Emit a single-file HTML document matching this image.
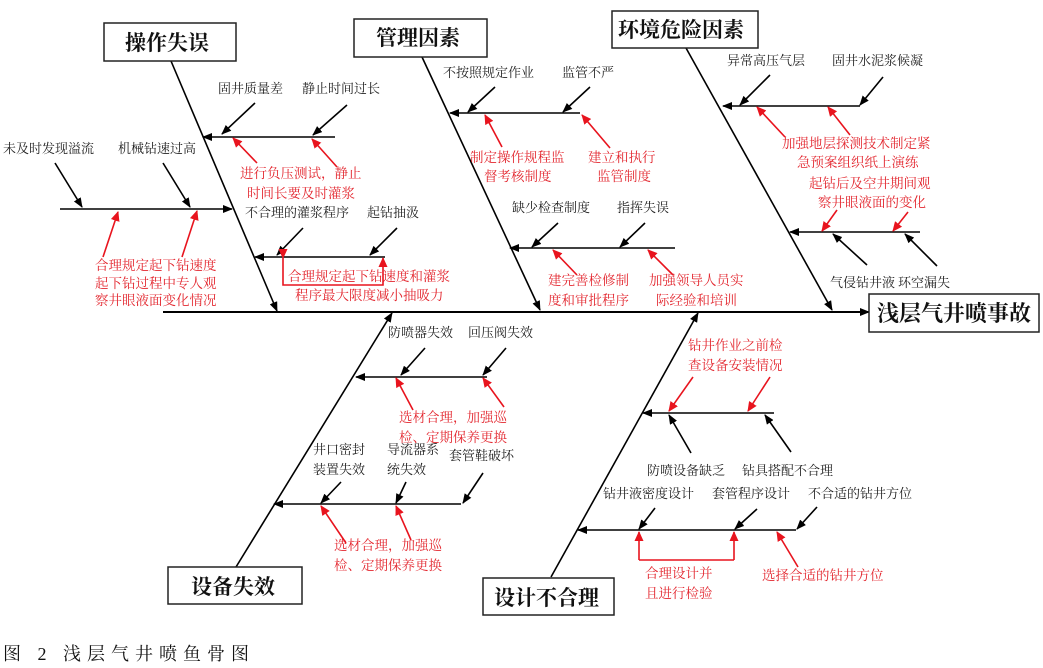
<!DOCTYPE html>
<html><head><meta charset="utf-8"><style>
html,body{margin:0;padding:0;background:#fff;}
svg{display:block;}
text{font-family:"Liberation Serif","Noto Serif CJK SC",serif;}
.k{font-size:13px;fill:#222;}
.r{font-size:13.5px;fill:#e3262e;}
.t{font-size:21px;fill:#111;}
</style></head><body>
<svg width="1043" height="668" viewBox="0 0 1043 668" xmlns="http://www.w3.org/2000/svg">
<defs>
<marker id="ak" markerWidth="10" markerHeight="8" refX="9" refY="4" orient="auto" markerUnits="userSpaceOnUse"><path d="M0,0 L10,4 L0,8 Z" fill="#000"/></marker>
<marker id="ar" markerWidth="10" markerHeight="9" refX="9" refY="4.5" orient="auto" markerUnits="userSpaceOnUse"><path d="M0,0 L10,4.5 L0,9 Z" fill="#e8141e"/></marker>
</defs>
<g stroke="#000" stroke-width="1.6" fill="none">
<line x1="163" y1="312" x2="869" y2="312" stroke-width="2" marker-end="url(#ak)"/>
<line x1="171" y1="61" x2="277" y2="311" marker-end="url(#ak)"/>
<line x1="422" y1="57" x2="540" y2="310" marker-end="url(#ak)"/>
<line x1="686" y1="48" x2="832" y2="310" marker-end="url(#ak)"/>
<line x1="236" y1="567" x2="392" y2="313" marker-end="url(#ak)"/>
<line x1="551" y1="577" x2="698" y2="313" marker-end="url(#ak)"/>
<line x1="335" y1="137" x2="203" y2="137" marker-end="url(#ak)"/>
<line x1="255" y1="103" x2="222" y2="134" marker-end="url(#ak)"/>
<line x1="347" y1="105" x2="313" y2="135" marker-end="url(#ak)"/>
<line x1="60" y1="209" x2="232" y2="209" marker-end="url(#ak)"/>
<line x1="55" y1="163" x2="82" y2="207" marker-end="url(#ak)"/>
<line x1="163" y1="163" x2="190" y2="207" marker-end="url(#ak)"/>
<line x1="385" y1="257" x2="255" y2="257" marker-end="url(#ak)"/>
<line x1="303" y1="228" x2="277" y2="255" marker-end="url(#ak)"/>
<line x1="397" y1="228" x2="370" y2="255" marker-end="url(#ak)"/>
<line x1="580" y1="113" x2="450" y2="113" marker-end="url(#ak)"/>
<line x1="495" y1="87" x2="468" y2="112" marker-end="url(#ak)"/>
<line x1="590" y1="87" x2="563" y2="112" marker-end="url(#ak)"/>
<line x1="675" y1="248" x2="510" y2="248" marker-end="url(#ak)"/>
<line x1="558" y1="223" x2="532" y2="247" marker-end="url(#ak)"/>
<line x1="645" y1="223" x2="620" y2="247" marker-end="url(#ak)"/>
<line x1="860" y1="106" x2="723" y2="106" marker-end="url(#ak)"/>
<line x1="770" y1="75" x2="740" y2="105" marker-end="url(#ak)"/>
<line x1="883" y1="77" x2="860" y2="105" marker-end="url(#ak)"/>
<line x1="920" y1="232" x2="790" y2="232" marker-end="url(#ak)"/>
<line x1="867" y1="265" x2="833" y2="234" marker-end="url(#ak)"/>
<line x1="937" y1="266" x2="905" y2="234" marker-end="url(#ak)"/>
<line x1="487" y1="377" x2="356" y2="377" marker-end="url(#ak)"/>
<line x1="425" y1="348" x2="401" y2="375" marker-end="url(#ak)"/>
<line x1="506" y1="348" x2="483" y2="375" marker-end="url(#ak)"/>
<line x1="461" y1="504" x2="274" y2="504" marker-end="url(#ak)"/>
<line x1="341" y1="482" x2="321" y2="503" marker-end="url(#ak)"/>
<line x1="406" y1="482" x2="396" y2="503" marker-end="url(#ak)"/>
<line x1="483" y1="473" x2="463" y2="503" marker-end="url(#ak)"/>
<line x1="774" y1="413" x2="643" y2="413" marker-end="url(#ak)"/>
<line x1="691" y1="453" x2="669" y2="415" marker-end="url(#ak)"/>
<line x1="791" y1="452" x2="765" y2="415" marker-end="url(#ak)"/>
<line x1="796" y1="530" x2="578" y2="530" marker-end="url(#ak)"/>
<line x1="655" y1="508" x2="639" y2="529" marker-end="url(#ak)"/>
<line x1="757" y1="509" x2="735" y2="529" marker-end="url(#ak)"/>
<line x1="817" y1="507" x2="797" y2="529" marker-end="url(#ak)"/>
</g>
<g stroke="#e8141e" stroke-width="1.6" fill="none">
<line x1="257" y1="163" x2="233" y2="138" marker-end="url(#ar)"/>
<line x1="337" y1="167" x2="312" y2="139" marker-end="url(#ar)"/>
<line x1="103" y1="257" x2="118" y2="212" marker-end="url(#ar)"/>
<line x1="182" y1="257" x2="197" y2="211" marker-end="url(#ar)"/>
<polyline points="283,258 283,285 383,285 383,258" marker-start="url(#ar)" marker-end="url(#ar)"/>
<line x1="502" y1="147" x2="485" y2="115" marker-end="url(#ar)"/>
<line x1="610" y1="148" x2="582" y2="115" marker-end="url(#ar)"/>
<line x1="577" y1="275" x2="553" y2="250" marker-end="url(#ar)"/>
<line x1="673" y1="275" x2="648" y2="250" marker-end="url(#ar)"/>
<line x1="785" y1="137" x2="757" y2="107" marker-end="url(#ar)"/>
<line x1="850" y1="135" x2="828" y2="107" marker-end="url(#ar)"/>
<line x1="837" y1="210" x2="822" y2="231" marker-end="url(#ar)"/>
<line x1="908" y1="212" x2="893" y2="231" marker-end="url(#ar)"/>
<line x1="413" y1="410" x2="396" y2="378" marker-end="url(#ar)"/>
<line x1="504" y1="407" x2="483" y2="378" marker-end="url(#ar)"/>
<line x1="346" y1="543" x2="321" y2="506" marker-end="url(#ar)"/>
<line x1="411" y1="540" x2="396" y2="506" marker-end="url(#ar)"/>
<line x1="693" y1="377" x2="669" y2="411" marker-end="url(#ar)"/>
<line x1="770" y1="377" x2="748" y2="411" marker-end="url(#ar)"/>
<line x1="639" y1="560" x2="639" y2="532" marker-end="url(#ar)"/>
<line x1="734" y1="560" x2="734" y2="532" marker-end="url(#ar)"/>
<line x1="639" y1="560" x2="734" y2="560"/>
<line x1="798" y1="567" x2="777" y2="532" marker-end="url(#ar)"/>
</g>
<g fill="#fff" stroke="#222" stroke-width="1.5">
<rect x="104" y="23" width="132" height="38"/>
<rect x="354" y="19" width="133" height="38"/>
<rect x="612" y="11" width="146" height="37"/>
<rect x="869" y="294" width="170" height="38"/>
<rect x="168" y="567" width="134" height="37"/>
<rect x="483" y="578" width="131" height="37"/>
</g>
<g class="t" font-weight="bold">
<text x="125" y="50">操作失误</text>
<text x="376" y="45">管理因素</text>
<text x="618" y="37">环境危险因素</text>
<text x="877" y="321" font-size="22">浅层气井喷事故</text>
<text x="191" y="594">设备失效</text>
<text x="494" y="605">设计不合理</text>
</g>
<g class="k">
<text x="218" y="93">固井质量差</text><text x="302" y="93">静止时间过长</text>
<text x="3" y="153">未及时发现溢流</text><text x="118" y="153">机械钻速过高</text>
<text x="245" y="217">不合理的灌浆程序</text><text x="367" y="217">起钻抽汲</text>
<text x="443" y="77">不按照规定作业</text><text x="562" y="77">监管不严</text>
<text x="512" y="212">缺少检查制度</text><text x="617" y="212">指挥失误</text>
<text x="727" y="65">异常高压气层</text><text x="832" y="65">固井水泥浆候凝</text>
<text x="830" y="287">气侵钻井液</text><text x="898" y="287">环空漏失</text>
<text x="388" y="337">防喷器失效</text><text x="468" y="337">回压阀失效</text>
<text x="313" y="454">井口密封</text><text x="313" y="474">装置失效</text>
<text x="387" y="454">导流器系</text><text x="387" y="474">统失效</text>
<text x="449" y="460">套管鞋破坏</text>
<text x="647" y="475">防喷设备缺乏</text><text x="742" y="475">钻具搭配不合理</text>
<text x="603" y="498">钻井液密度设计</text><text x="712" y="498">套管程序设计</text><text x="808" y="498">不合适的钻井方位</text>
</g>
<g class="r">
<text x="240" y="178">进行负压测试，静止</text><text x="247" y="198">时间长要及时灌浆</text>
<text x="95" y="270">合理规定起下钻速度</text><text x="95" y="288">起下钻过程中专人观</text><text x="95" y="305">察井眼液面变化情况</text>
<text x="288" y="281">合理规定起下钻速度和灌浆</text><text x="295" y="300">程序最大限度减小抽吸力</text>
<text x="470" y="162">制定操作规程监</text><text x="484" y="181">督考核制度</text>
<text x="588" y="162">建立和执行</text><text x="597" y="181">监管制度</text>
<text x="548" y="285">建完善检修制</text><text x="548" y="305">度和审批程序</text>
<text x="649" y="285">加强领导人员实</text><text x="656" y="305">际经验和培训</text>
<text x="782" y="148">加强地层探测技术制定紧</text><text x="797" y="167">急预案组织纸上演练</text>
<text x="809" y="188">起钻后及空井期间观</text><text x="818" y="207">察井眼液面的变化</text>
<text x="399" y="422">选材合理，加强巡</text><text x="399" y="442">检、定期保养更换</text>
<text x="334" y="550">选材合理，加强巡</text><text x="334" y="570">检、定期保养更换</text>
<text x="688" y="350">钻井作业之前检</text><text x="688" y="370">查设备安装情况</text>
<text x="645" y="578">合理设计并</text><text x="645" y="598">且进行检验</text>
<text x="762" y="580">选择合适的钻井方位</text>
</g>
<text x="3" y="660" font-family="'Noto Serif CJK SC',serif" font-size="18" letter-spacing="6" fill="#111">图 2 浅层气井喷鱼骨图</text>
</svg>
</body></html>
